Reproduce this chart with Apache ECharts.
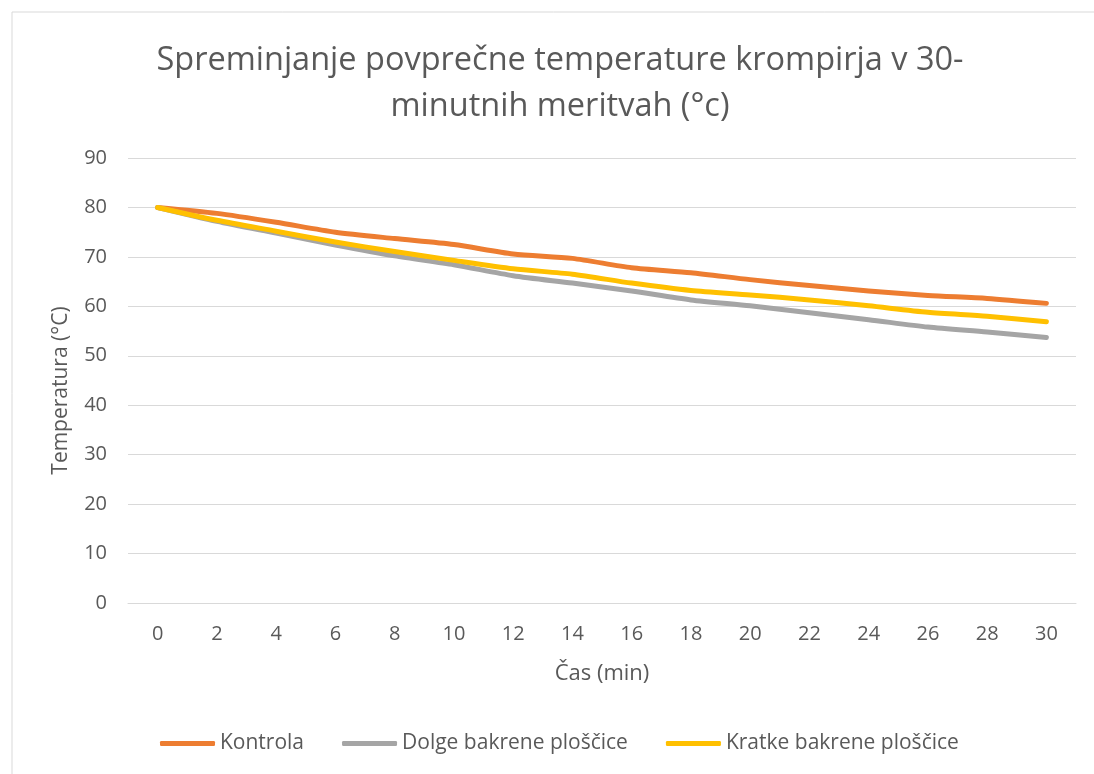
<!DOCTYPE html>
<html>
<head>
<meta charset="utf-8">
<script src="https://cdn.jsdelivr.net/npm/echarts@6/dist/echarts.min.js"></script>
<style>
  html, body { margin: 0; padding: 0; background: #fff; }
  #chart { width: 1094px; height: 774px; }
</style>
</head>
<body>
<div id="chart"></div>
<script>
// čas v minutah
var casi = ['0', '2', '4', '6', '8', '10', '12', '14', '16', '18', '20', '22', '24', '26', '28', '30'];
var kontrola = [80, 78.8, 77, 75, 73.7, 72.5, 70.6, 69.7, 67.8, 66.8, 65.4, 64.2, 63.1, 62.2, 61.6, 60.6];
var dolge = [80, 77.2, 74.8, 72.4, 70.2, 68.4, 66.2, 64.7, 63.1, 61.3, 60.1, 58.7, 57.3, 55.8, 54.8, 53.7];
var kratke = [80, 77.4, 75.2, 73.0, 71.1, 69.3, 67.6, 66.5, 64.7, 63.2, 62.3, 61.3, 60.1, 58.8, 58.0, 56.9];
var yTicks = [0, 90, 10]; // min, max, interval

var txt = '#595959';
var font = '"Open Sans", "Noto Sans", sans-serif';

var myChart = echarts.init(document.getElementById('chart'));

function serija(name, data, color) {
  return {
    name: name,
    type: 'line',
    data: data,
    smooth: 0.25,
    symbol: 'none',
    lineStyle: { width: 5, color: color, cap: 'round', join: 'round' },
    itemStyle: { color: color }
  };
}

myChart.setOption({
  animation: false,
  textStyle: { fontFamily: font },
  graphic: [{
    type: 'rect',
    shape: { x: 12, y: 12, width: 1200, height: 900 },
    style: { fill: 'none', stroke: '#d9d9d9', lineWidth: 1 },
    silent: true,
    z: -1
  }],
  title: {
    text: 'Spreminjanje povprečne temperature krompirja v 30-\nminutnih meritvah (°c)',
    left: 555,
    textAlign: 'center',
    top: 33,
    textStyle: { color: txt, fontSize: 32.5, fontWeight: 'normal', lineHeight: 46, fontFamily: font }
  },
  legend: {
    bottom: 15,
    left: 155,
    icon: 'roundRect',
    itemWidth: 55,
    itemHeight: 5,
    itemGap: 38,
    textStyle: { color: txt, fontSize: 21 },
    data: ['Kontrola', 'Dolge bakrene ploščice', 'Kratke bakrene ploščice']
  },
  grid: { left: 128, right: 18, top: 158, bottom: 171, containLabel: false },
  xAxis: {
    type: 'category',
    data: casi,
    boundaryGap: true,
    name: 'Čas (min)',
    nameLocation: 'middle',
    nameGap: 60,
    nameTextStyle: { color: txt, fontSize: 22 },
    axisLine: { lineStyle: { color: '#d9d9d9', width: 1 } },
    axisTick: { show: false },
    axisLabel: { color: txt, fontSize: 20, margin: 21 },
    splitLine: { show: false }
  },
  yAxis: {
    type: 'value',
    min: yTicks[0],
    max: yTicks[1],
    interval: yTicks[2],
    name: 'Temperatura (°C)',
    nameLocation: 'middle',
    nameGap: 56,
    nameTextStyle: { color: txt, fontSize: 21, padding: [0, 20, 0, 0] },
    axisLine: { show: false },
    axisTick: { show: false },
    axisLabel: { color: txt, fontSize: 20, margin: 21 },
    splitLine: { lineStyle: { color: '#d9d9d9', width: 1 } }
  },
  series: [
    serija('Kontrola', kontrola, '#ED7D31'),
    serija('Dolge bakrene ploščice', dolge, '#A5A5A5'),
    serija('Kratke bakrene ploščice', kratke, '#FFC000')
  ]
});
</script>
</body>
</html>
